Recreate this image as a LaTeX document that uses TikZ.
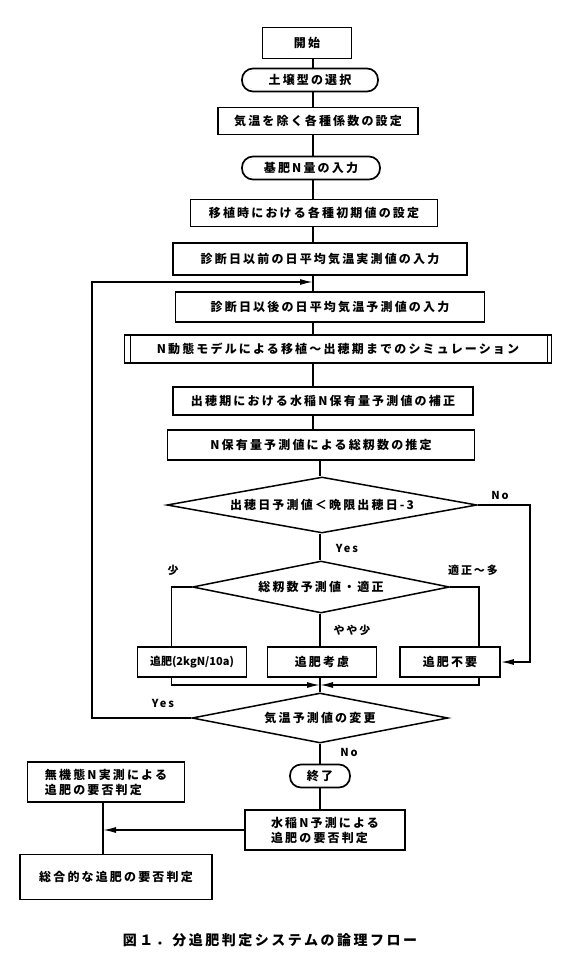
\documentclass[tikz,border=0pt]{standalone}
\usepackage{fontspec}
\setmainfont{Noto Sans CJK JP}[LetterSpace=18]
\usepackage{tikz}
\usetikzlibrary{positioning,calc}
\usetikzlibrary{arrows.meta,shapes.geometric}
\tikzset{
  box/.style={draw=black,line width=1.7pt,inner sep=0pt,font=\bfseries\fontsize{12}{15}\selectfont},
  term/.style={box,rounded corners=11pt},
  dec/.style={diamond,draw=black,line width=1.5pt,inner sep=0pt,font=\bfseries\fontsize{12}{15}\selectfont},
  flow/.style={draw=black,line width=1.5pt},
  arr/.style={flow,-{Latex[length=13pt,width=6pt]}},
  lbl/.style={font=\bfseries\fontsize{11}{13}\selectfont},
}

\begin{document}
\begin{tikzpicture}[x=1pt,y=-1pt]
\useasboundingbox (0,0) rectangle (585,961);
\coordinate (col) at (313,0);
\coordinate (colB) at (320,0);
\coordinate (loopin) at (313,282);
\coordinate (back) at (92,0);
\coordinate (nox) at (530,0);
\coordinate (merge) at (320,685);
\coordinate (jn) at (103,830);
% main column
\node[box,minimum width=89pt,minimum height=31pt] (start) at (307,43) {開始};
\node[term,minimum width=136pt,minimum height=23pt] (soil) at (310,80) {土壌型の選択};
\node[box,minimum width=200pt,minimum height=27pt] (coef) at (318,121) {気温を除く各種係数の設定};
\node[term,minimum width=138pt,minimum height=23pt] (basal) at (311,168) {基肥N量の入力};
\node[box,minimum width=247pt,minimum height=27pt] (init) at (314,213) {移植時における各種初期値の設定};
\node[box,minimum width=294pt,minimum height=32pt] (before) at (320,259) {診断日以前の日平均気温実測値の入力};
\node[box,minimum width=309pt,minimum height=30pt] (after) at (330,307) {診断日以後の日平均気温予測値の入力};
\node[box,minimum width=427pt,minimum height=28pt] (sim) at (338,349) {N動態モデルによる移植～出穂期までのシミュレーション};
\draw[flow] ([xshift=7pt]sim.north west) -- ([xshift=7pt]sim.south west);
\draw[flow] ([xshift=-5pt]sim.north east) -- ([xshift=-5pt]sim.south east);
\node[box,minimum width=300pt,minimum height=28pt] (heading) at (323,401) {出穂期における水稲N保有量予測値の補正};
\node[box,minimum width=307pt,minimum height=30pt] (ncont) at (321,445) {N保有量予測値による総籾数の推定};
\node[dec,minimum width=310pt,minimum height=56pt,aspect=5.5] (judge) at (322,505) {出穂日予測値＜晩限出穂日-3};
\node[dec,minimum width=257pt,minimum height=52pt,aspect=5] (grain) at (321,587) {総籾数予測値・適正};
\node[box,minimum width=109pt,minimum height=30pt,font=\bfseries\fontsize{11}{13}\selectfont\addfontfeatures{LetterSpace=0}] (topA) at (192,662) {追肥(2kgN/10a)};
\node[box,minimum width=109pt,minimum height=30pt] (topB) at (322,662) {追肥考慮};
\node[box,minimum width=100pt,minimum height=30pt] (topC) at (450,662) {追肥不要};
\node[dec,minimum width=256pt,minimum height=50pt,aspect=5] (temp) at (320,718) {気温予測値の変更};
\node[term,minimum width=60pt,minimum height=23pt] (stop) at (320,776) {終了};
\node[box,minimum width=160pt,minimum height=40pt,align=left] (pred) at (325,830) {水稲N予測による\\追肥の要否判定};
\node[box,minimum width=157pt,minimum height=40pt,align=left] (meas) at (106,782) {無機態N実測による\\追肥の要否判定};
\node[box,minimum width=192pt,minimum height=45pt] (total) at (116,877) {総合的な追肥の要否判定};
% labels
\node[lbl] (noA) at (500,495) {No};
\node[lbl] (yesA) at (347,548) {Yes};
\node[lbl] (few) at (173,570) {少};
\node[lbl] (many) at (473,570) {適正～多};
\node[lbl] (some) at (352,630) {やや少};
\node[lbl] (yesB) at (163,703) {Yes};
\node[lbl] (noB) at (349,752) {No};
\node[font=\bfseries\fontsize{14}{17}\selectfont] (cap) at (270,940) {図１．分追肥判定システムの論理フロー};
% connectors
\draw[flow] (start.south -| col) -- (soil.north -| col);
\draw[flow] (soil.south -| col) -- (coef.north -| col);
\draw[flow] (coef.south -| col) -- (basal.north -| col);
\draw[flow] (basal.south -| col) -- (init.north -| col);
\draw[flow] (init.south -| col) -- (before.north -| col);
\draw[flow] (before.south -| col) -- (after.north -| col);
\draw[flow] (after.south -| col) -- (sim.north -| col);
\draw[flow] (sim.south -| col) -- (heading.north -| col);
\draw[flow] (heading.south -| col) -- (ncont.north -| col);
\draw[flow] (ncont.south -| colB) -- (judge.north -| colB);
\draw[flow] (judge.south -| colB) -- (grain.north -| colB);
\draw[arr] (judge.east) -- (judge.east -| nox) -- (nox |- topC.east) -- (topC.east);
\draw[flow] (grain.west) -| ([xshift=35pt]topA.north west);
\draw[flow] (grain.east) -| ([xshift=-22pt]topC.north east);
\draw[flow] (grain.south -| colB) -- (topB.north -| colB);
\draw[arr] ([xshift=35pt]topA.south west) |- (merge);
\draw[arr] ([xshift=-22pt]topC.south east) |- (merge);
\draw[flow] (topB.south -| colB) -- (temp.north -| colB);
\draw[arr] (temp.west) -- (temp.west -| back) -- (back |- loopin) -- (loopin);
\draw[flow] (temp.south -| colB) -- (stop.north -| colB);
\draw[flow] (stop.south -| colB) -- (pred.north -| colB);
\draw[flow] (meas.south -| jn) -- (total.north -| jn);
\draw[arr] (pred.west) -- (jn);
\end{tikzpicture}
\end{document}
